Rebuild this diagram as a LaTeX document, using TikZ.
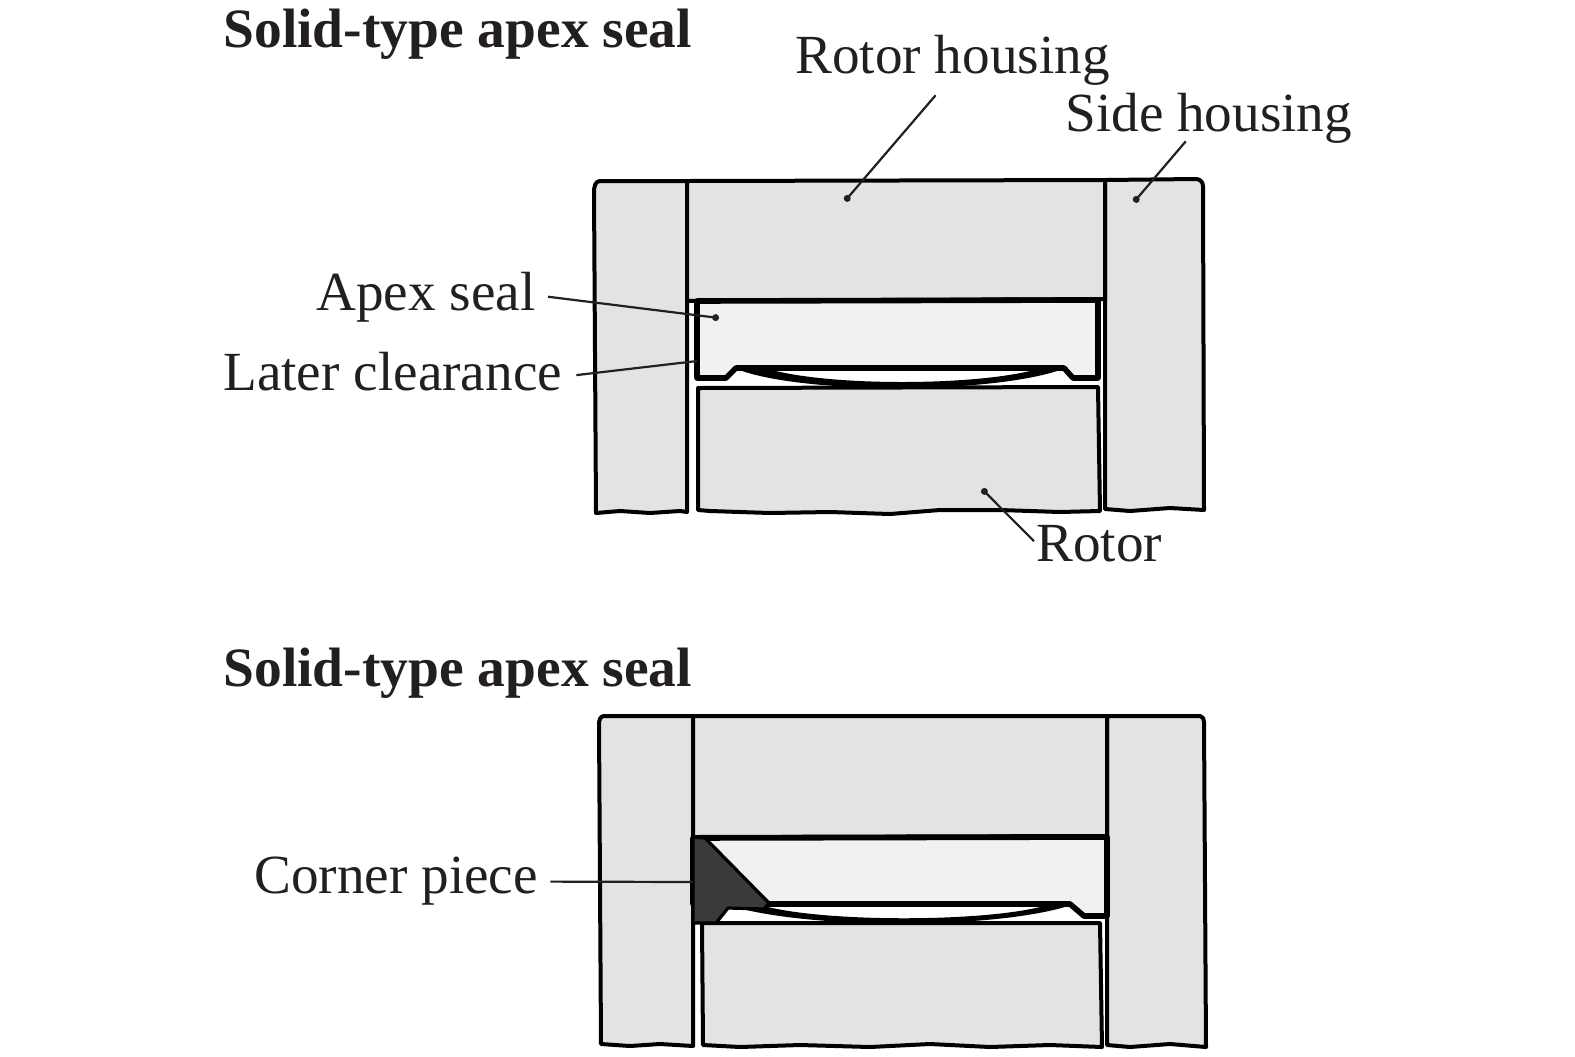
\documentclass[tikz,border=0pt]{standalone}
\usepackage{fontspec}
\setmainfont{Liberation Serif}
\usetikzlibrary{arrows.meta}
\definecolor{inktext}{HTML}{231F20}
\definecolor{housinggray}{HTML}{E3E3E3}
\definecolor{sealgray}{HTML}{F1F1F1}
\definecolor{cornergray}{HTML}{3A3A3A}
\tikzset{
	housing/.style={draw=black, fill=housinggray, line width=2pt, line join=round},
	sealbody/.style={draw=black, fill=sealgray, line width=2.8pt, line join=round},
	leader/.style={draw=inktext, line width=1.1pt, -{Circle[length=3.4pt]}},
	plainleader/.style={draw=inktext, line width=1.1pt},
	partlabel/.style={anchor=base west, inner sep=0pt, text=inktext, font=\fontsize{27.6}{30}\selectfont},
	titlelabel/.style={anchor=base west, inner sep=0pt, text=inktext, font=\fontsize{27.75}{30}\selectfont\bfseries}
}

\begin{document}
\begin{tikzpicture}[x=0.5pt, y=-0.5pt]
				\useasboundingbox (0,0) rectangle (1575,1056);
				
				\draw[housing] (594,192) to[out=90,in=180] (600,181) -- (687,181) -- (687,512) -- (680,511) -- (650,513) -- (620,511) -- (596,513) -- cycle;
				\draw[housing] (1105,180) -- (1196,179) to[out=0,in=90] (1203,186) -- (1204,510) -- (1170,508) -- (1130,511) -- (1105,509) -- cycle;
				\draw[housing] (687,181) -- (1105,180) -- (1105,299) -- (687,301) -- cycle;
				\draw[housing] (698,388) -- (1098,387) -- (1100,511) -- (1060,512) -- (1000,510) -- (940,510) -- (890,514) -- (830,512) -- (770,513) -- (710,511) -- (698,510) -- cycle;
				
				\draw[sealbody] (697,301) -- (1098,300) -- (1098,378) -- (1073,378) -- (1064,368) -- (736,368) -- (726,378) -- (697,378) -- cycle;
				\fill (732,367) .. controls (792,395) and (1002,395) .. (1068,367) -- (1034,370) .. controls (972,386) and (832,386) .. (772,370) -- cycle;
				
				\node[titlelabel] (title1) at (223,47) {Solid-type apex seal};
				\node[partlabel] (rotorhousing) at (795,73) {Rotor housing};
				\node[partlabel] (sidehousing) at (1065,131) {Side housing};
				\node[partlabel] (apexseal) at (316,310) {Apex seal};
				\node[partlabel] (laterclearance) at (223,390) {Later clearance};
				\node[partlabel] (rotorlabel) at (1036,561) {Rotor};
				
				\coordinate (rotorhousingpt) at (845,201);
				\coordinate (sidehousingpt) at (1134,202);
				\coordinate (apexsealpt) at (719,318);
				\coordinate (clearancept) at (697,361);
				\coordinate (rotorpt) at (982,489);
				\draw[leader] ([xshift=-8.5pt,yshift=-5pt]rotorhousing.south) -- (rotorhousingpt);
				\draw[leader] ([xshift=-11.5pt,yshift=1pt]sidehousing.south) -- (sidehousingpt);
				\draw[leader] ([xshift=6pt]apexseal.east) -- (apexsealpt);
				\draw[plainleader] ([xshift=7pt,yshift=-2pt]laterclearance.east) -- (clearancept);
				\draw[leader] ([xshift=-1pt,yshift=1pt]rotorlabel.west) -- (rotorpt);
				
				\draw[housing] (599,724) to[out=90,in=180] (604,716) -- (693,716) -- (693,1046) -- (660,1044) -- (630,1046) -- (601,1044) -- cycle;
				\draw[housing] (1107,716) -- (1200,716) to[out=0,in=90] (1204,722) -- (1206,1047) -- (1170,1044) -- (1130,1047) -- (1107,1045) -- cycle;
				\draw[housing] (693,716) -- (1107,716) -- (1107,836) -- (693,837) -- cycle;
				\draw[housing] (702,923) -- (1100,923) -- (1102,1047) -- (1050,1045) -- (990,1047) -- (930,1044) -- (870,1047) -- (800,1045) -- (740,1047) -- (703,1045) -- cycle;
				
				\draw[sealbody] (693,838) -- (1107,837) -- (1107,916) -- (1084,916) -- (1070,904) -- (745,904) -- (693,904) -- cycle;
				\fill (725,904) .. controls (800,930) and (1002,930) .. (1074,904) -- (1040,907) .. controls (978,922) and (830,922) .. (768,907) -- cycle;
				\draw[draw=black, fill=cornergray, line width=1.6pt, line join=round] (693,837) -- (705,838) -- (769,903) -- (764,909) -- (728,908) -- (716,923) -- (693,923) -- cycle;
				
				\node[titlelabel] (title2) at (223,686) {Solid-type apex seal};
				\node[partlabel] (cornerpiece) at (254,893) {Corner piece};
				\coordinate (cornerpt) at (693,882);
				\draw[plainleader] ([xshift=6pt,yshift=-0.5pt]cornerpiece.east) -- (cornerpt);
			\end{tikzpicture}
\end{document}
